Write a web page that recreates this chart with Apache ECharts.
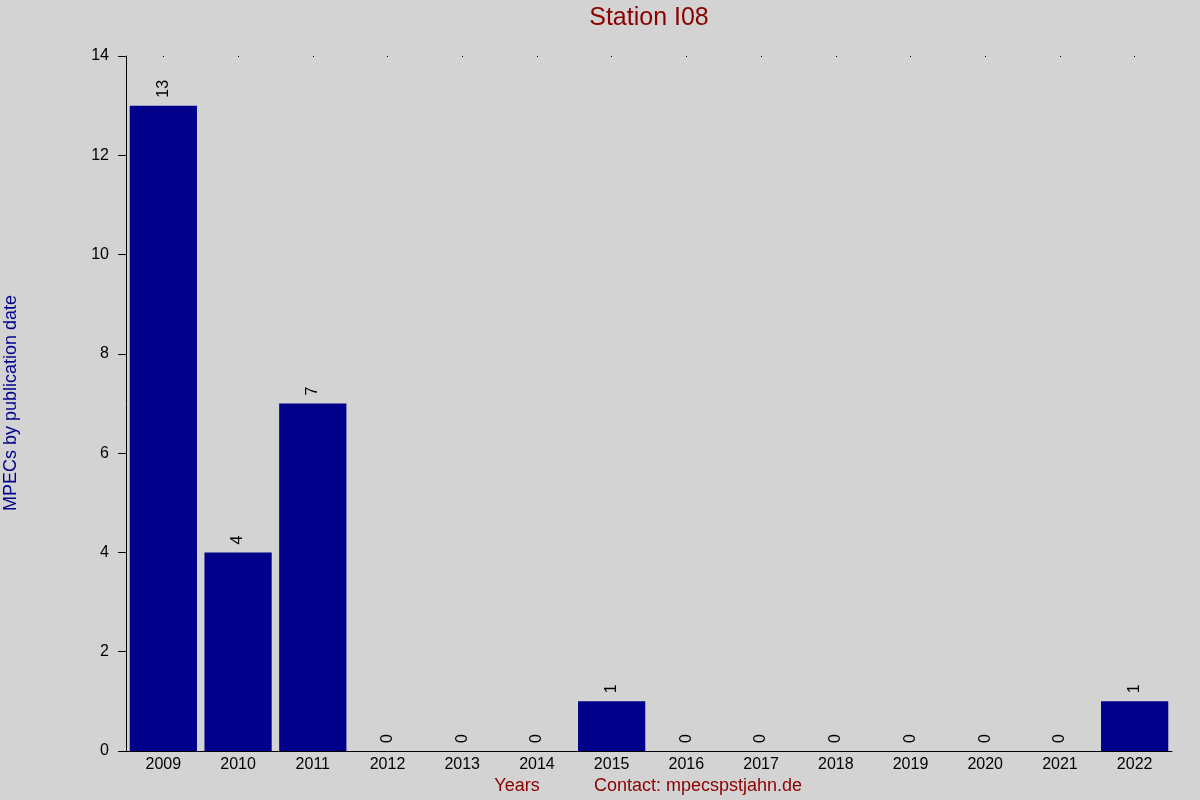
<!DOCTYPE html>
<html>
<head>
<meta charset="utf-8">
<script src="https://cdn.jsdelivr.net/npm/echarts@6/dist/echarts.min.js"></script>
<style>
    html, body {margin: 0; padding: 0; background: #d3d3d3;}
    #chart {width: 1200px; height: 800px;}
</style>
</head>
<body>
<div id="chart"></div>
<script>
// MPECs per year for station I08
var years = ['2009', '2010', '2011', '2012', '2013', '2014', '2015', '2016', '2017', '2018', '2019', '2020', '2021', '2022'];
var counts = [13, 4, 7, 0, 0, 0, 1, 0, 0, 0, 0, 0, 0, 1];
var yTicks = [0, 2, 4, 6, 8, 10, 12, 14];

var chart = echarts.init(document.getElementById('chart'));

var option = {
    backgroundColor: '#d3d3d3',
    animation: false,
    textStyle: {fontFamily: 'Liberation Sans'},
    grid: {left: 126, right: 28, top: 56, bottom: 49},
    xAxis: [
        {
            type: 'category',
            data: years,
            position: 'bottom',
            axisLine: {show: true, lineStyle: {color: '#000', width: 1}},
            axisTick: {show: false},
            axisLabel: {color: '#000', fontSize: 16, margin: 6}
        },
        {
            // tiny dots along the top at each category
            type: 'category',
            data: years,
            position: 'top',
            axisLine: {show: false},
            axisTick: {show: true, alignWithLabel: true, length: 1, inside: true, lineStyle: {color: '#000'}},
            axisLabel: {show: false}
        }
    ],
    yAxis: {
        type: 'value',
        min: yTicks[0],
        max: yTicks[yTicks.length - 1],
        interval: 2,
        splitLine: {show: false},
        axisLine: {show: true, lineStyle: {color: '#000', width: 1}},
        axisTick: {show: true, length: 8, lineStyle: {color: '#000'}},
        axisLabel: {color: '#000', fontSize: 16, margin: 17}
    },
    graphic: [
        {
            type: 'text',
            x: 649, y: 18,
            style: {text: 'Station I08', fill: '#8b0000', fontSize: 25, fontFamily: 'Liberation Sans', align: 'center', verticalAlign: 'middle'}
        },
        {
            type: 'line',
            shape: {x1: 118, y1: 751.5, x2: 126, y2: 751.5},
            style: {stroke: '#000', lineWidth: 1}
        },
        {
            type: 'text',
            x: 11, y: 403,
            rotation: Math.PI / 2,
            style: {text: 'MPECs by publication date', fill: '#00008b', fontSize: 18, fontFamily: 'Liberation Sans', align: 'center', verticalAlign: 'middle'}
        },
        {
            type: 'text',
            x: 517, y: 786,
            style: {text: 'Years', fill: '#8b0000', fontSize: 18, fontFamily: 'Liberation Sans', align: 'center', verticalAlign: 'middle'}
        },
        {
            type: 'text',
            x: 698, y: 786,
            style: {text: 'Contact: mpecspstjahn.de', fill: '#8b0000', fontSize: 18, fontFamily: 'Liberation Sans', align: 'center', verticalAlign: 'middle'}
        }
    ],
    series: [{
        type: 'bar',
        data: counts,
        xAxisIndex: 0,
        barCategoryGap: '10%',
        itemStyle: {color: '#00008b'},
        label: {
            show: true,
            position: 'top',
            rotate: 90,
            align: 'left',
            verticalAlign: 'middle',
            distance: 8,
            color: '#000',
            fontSize: 16
        }
    }]
};

chart.setOption(option);
</script>
</body>
</html>
